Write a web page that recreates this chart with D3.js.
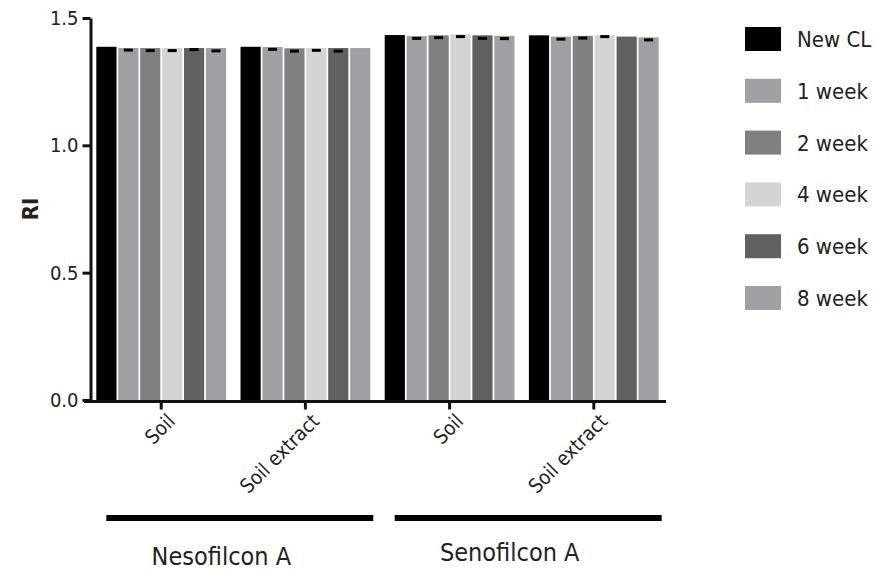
<!DOCTYPE html>
<html>
<head>
<meta charset="utf-8">
<script src="https://cdn.jsdelivr.net/npm/d3@7"></script>
<style>
  body { margin: 0; background: #fff; }
  text { font-family: "DejaVu Sans Condensed", "DejaVu Sans", sans-serif; fill: #222; }
  .axis path, .axis line { stroke: #111; stroke-width: 3; }
  .axis text { font-size: 20px; fill: #222; font-family: "DejaVu Sans Condensed", "DejaVu Sans", sans-serif; }
</style>
</head>
<body>
<svg id="chart" width="876" height="572"></svg>
<script>
// categories on the x axis (id, label, lens)
const groupIds = ['neso-soil', 'neso-extract', 'seno-soil', 'seno-extract']
const groupLabels = ['Soil', 'Soil extract', 'Soil', 'Soil extract']
const lenses = ['Nesofilcon A', 'Senofilcon A']

const seriesNames = ['New CL', '1 week', '2 week', '4 week', '6 week', '8 week']
const seriesColors = ['#000000', '#a0a0a4', '#808080', '#d4d4d4', '#606060', '#a0a0a4']

// RI means, one row per group, one column per series
const values = [
    [1.387, 1.382, 1.382, 1.382, 1.382, 1.382],
    [1.387, 1.386, 1.381, 1.382, 1.382, 1.382],
    [1.433, 1.429, 1.432, 1.436, 1.432, 1.430],
    [1.432, 1.427, 1.430, 1.432, 1.427, 1.424]
]
// error (drawn below the mean), 0 = not visible
const errors = [
    [0, 0.008, 0.010, 0.010, 0.006, 0.011],
    [0, 0.009, 0.011, 0.009, 0.012, 0],
    [0, 0.009, 0.009, 0.009, 0.012, 0.011],
    [0, 0.010, 0.009, 0.005, 0, 0.010]
]

const yTicks = [0, 0.5, 1.0, 1.5]

const svg = d3.select('#chart')

const DIM = { left: 92, right: 663, top: 18, bottom: 400 }

const x0 = d3.scaleBand()
    .domain(groupIds)
    .range([DIM.left, DIM.right])
    .paddingInner(0.1)
    .paddingOuter(0.03)

const x1 = d3.scaleBand()
    .domain(seriesNames)
    .range([0, x0.bandwidth()])
    .paddingInner(0.08)

const y = d3.scaleLinear()
    .domain([0, 1.5])
    .range([DIM.bottom, DIM.top])

// bars
const groups = svg.selectAll('.group')
    .data(groupIds)
    .join('g')
    .attr('class', 'group')
    .attr('transform', d => `translate(${x0(d)},0)`)

groups.selectAll('rect.bar')
    .data((d, i) => values[i].map((v, j) => ({ s: seriesNames[j], v: v, c: seriesColors[j] })))
    .join('rect')
    .attr('class', 'bar')
    .attr('x', d => x1(d.s))
    .attr('width', x1.bandwidth())
    .attr('y', d => y(d.v))
    .attr('height', d => y(0) - y(d.v))
    .attr('fill', d => d.c)

// error caps
groups.selectAll('rect.err')
    .data((d, i) => values[i].map((v, j) => ({ s: seriesNames[j], v: v, e: errors[i][j] })).filter(d => d.e > 0))
    .join('rect')
    .attr('class', 'err')
    .attr('x', d => x1(d.s) + x1.bandwidth() / 2 - 4.5)
    .attr('width', 9)
    .attr('y', d => y(d.v - d.e) - 1.5)
    .attr('height', 3)
    .attr('fill', '#000')

// y axis
svg.append('g')
    .attr('class', 'axis y-axis')
    .attr('transform', `translate(${DIM.left - 1.5},0)`)
    .call(d3.axisLeft(y).tickValues(yTicks).tickFormat(d3.format('.1f')).tickSize(8).tickSizeOuter(0).tickPadding(4))

// x axis
const xAxis = svg.append('g')
    .attr('class', 'axis x-axis')
    .attr('transform', `translate(0,${DIM.bottom + 1.5})`)
    .call(d3.axisBottom(x0).tickSize(8).tickSizeOuter(0))
xAxis.select('.domain').attr('d', `M${DIM.left - 8},0H${DIM.right + 3}`)
xAxis.selectAll('.tick text')
    .text((d, i) => groupLabels[i])
    .attr('text-anchor', 'end')
    .attr('y', 0)
    .attr('dy', 0)
    .attr('transform', 'translate(15,21) rotate(-45)')

// y title
svg.append('text')
    .attr('transform', `translate(38, ${(DIM.top + DIM.bottom) / 2}) rotate(-90)`)
    .attr('text-anchor', 'middle')
    .style('font-size', '22px')
    .style('font-weight', 'bold')
    .text('RI')

// lens bars under the groups
const lensSpan = [[groupIds[0], groupIds[1]], [groupIds[2], groupIds[3]]]
svg.selectAll('.lens-line')
    .data(lensSpan)
    .join('line')
    .attr('class', 'lens-line')
    .attr('x1', d => x0(d[0]) + 10)
    .attr('x2', d => x0(d[1]) + x0.bandwidth() + 3)
    .attr('y1', 518)
    .attr('y2', 518)
    .attr('stroke', '#000')
    .attr('stroke-width', 6)

svg.selectAll('.lens-label')
    .data(lenses)
    .join('text')
    .attr('class', 'lens-label')
    .attr('x', (d, i) => (x0(lensSpan[i][0]) + x0(lensSpan[i][1]) + x0.bandwidth()) / 2 - 12)
    .attr('y', (d, i) => i === 0 ? 565 : 561)
    .attr('text-anchor', 'middle')
    .style('font-size', '25px')
    .text(d => d)

// legend
const legend = svg.append('g').attr('transform', 'translate(745,27)')
const items = legend.selectAll('g')
    .data(seriesNames)
    .join('g')
    .attr('transform', (d, i) => `translate(0,${i * 51.8})`)
items.append('rect')
    .attr('width', 36)
    .attr('height', 24)
    .attr('fill', (d, i) => seriesColors[i])
items.append('text')
    .attr('x', 52)
    .attr('y', 12)
    .attr('dy', '0.36em')
    .style('font-size', '22px')
    .text(d => d)
</script>
</body>
</html>
